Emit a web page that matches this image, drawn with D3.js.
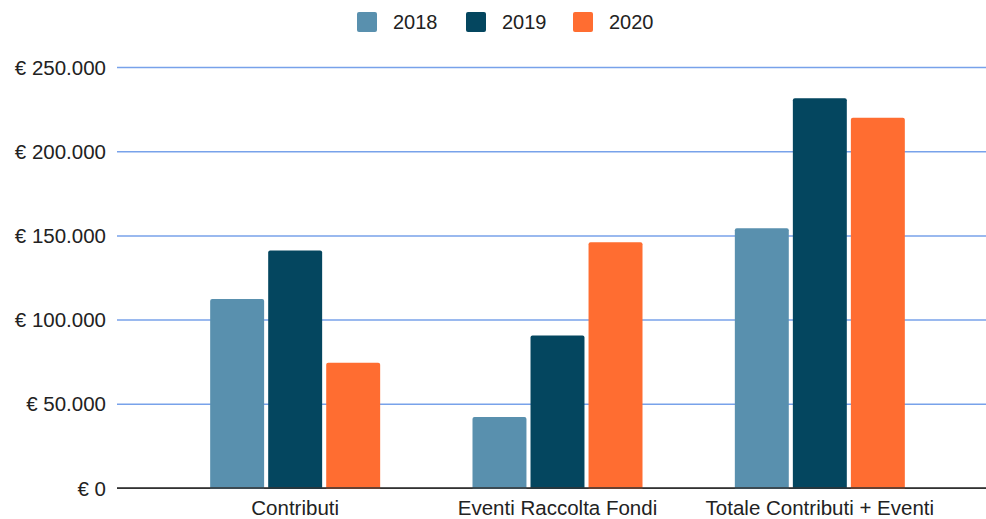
<!DOCTYPE html>
<html>
<head>
<meta charset="utf-8">
<script src="https://cdn.jsdelivr.net/npm/d3@7"></script>
<style>
body { margin: 0; background: #fff; }
svg text { font-family: "Liberation Sans", Arial, sans-serif; fill: #222; }
</style>
</head>
<body>
<svg></svg>
<script>
var width = 986;
var height = 519;

var categories = ['Contributi', 'Eventi Raccolta Fondi', 'Totale Contributi + Eventi'];
var years = ['2018', '2019', '2020'];
var values2018 = [112300, 42100, 154200];
var values2019 = [141000, 90500, 231400];
var values2020 = [74400, 146000, 219800];
var colors = ['#5990ae', '#04465f', '#ff6d31'];
var yTicks = [0, 50000, 100000, 150000, 200000, 250000];

var series = [values2018, values2019, values2020];
var rows = [];
categories.forEach(function (c, i) {
    years.forEach(function (y, j) {
        rows.push({cat: c, year: y, value: series[j][i]});
    });
});

var svg = d3.select('svg')
    .attr('width', width)
    .attr('height', height);

var Yscale = d3.scaleLinear().domain([0, 250000]).range([488, 67]);
var Xscale = d3.scaleBand().domain(categories).range([164, 951]);
var groupW = 170;
var Xinner = d3.scaleBand().domain(years).range([0, groupW]).paddingInner(0.07);
var fillScale = d3.scaleOrdinal().domain(years).range(colors);

var fmt = function (v) {
    return '€ ' + d3.format(',')(v).replace(/,/g, '.');
};

// gridlines + y labels
var Yaxis = d3.axisLeft(Yscale)
    .tickValues(yTicks)
    .tickSize(-(986 - 117))
    .tickPadding(11)
    .tickFormat(fmt);

var yg = svg.append('g')
    .attr('transform', 'translate(117,0)')
    .call(Yaxis);
yg.select('.domain').remove();
yg.selectAll('.tick line')
    .attr('stroke', d => d === 0 ? '#333' : '#78a2ea')
    .attr('stroke-width', d => d === 0 ? 1.3 : 1.5);
yg.selectAll('.tick text')
    .style('font-size', '20.5px')
    .attr('fill', '#222')
    .attr('dy', '0.35em');

// bars
svg.append('g')
    .selectAll('rect')
    .data(rows)
    .enter()
    .append('rect')
    .attr('x', d => Xscale(d.cat) + (Xscale.bandwidth() - groupW) / 2 + Xinner(d.year))
    .attr('y', d => Yscale(d.value))
    .attr('width', Xinner.bandwidth())
    .attr('height', d => Yscale(0) - Yscale(d.value) + 3)
    .attr('rx', 2)
    .attr('fill', d => fillScale(d.year));

// cover bar bottoms below axis
svg.append('rect')
    .attr('x', 117).attr('y', 489)
    .attr('width', 869).attr('height', 6)
    .attr('fill', '#fff');

svg.append('line')
    .attr('x1', 117).attr('x2', 986)
    .attr('y1', Yscale(0)).attr('y2', Yscale(0))
    .attr('stroke', '#333')
    .attr('stroke-width', 1.3);

// x labels
var Xaxis = d3.axisBottom(Xscale).tickSize(0).tickPadding(12);
var xg = svg.append('g')
    .attr('transform', 'translate(0,' + Yscale(0) + ')')
    .call(Xaxis);
xg.select('.domain').remove();
xg.selectAll('.tick text')
    .style('font-size', '20.5px')
    .attr('fill', '#222');

// legend
var legendX = [357, 466, 573];
var legend = svg.append('g')
    .selectAll('g')
    .data(years)
    .enter()
    .append('g')
    .attr('transform', (d, i) => 'translate(' + legendX[i] + ',12)');

legend.append('rect')
    .attr('width', 20)
    .attr('height', 20)
    .attr('rx', 2)
    .attr('fill', d => fillScale(d));

legend.append('text')
    .attr('x', 36)
    .attr('y', 17)
    .style('font-size', '20px')
    .text(d => d);
</script>
</body>
</html>
